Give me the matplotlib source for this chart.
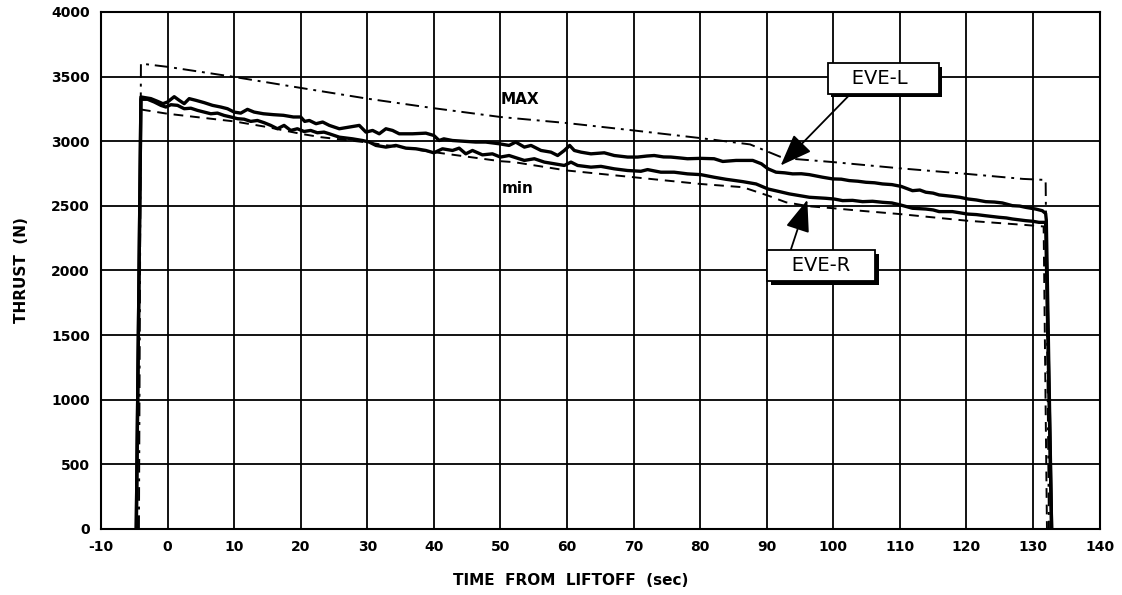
import matplotlib
matplotlib.use("Agg")
import matplotlib.pyplot as plt
import matplotlib.patheffects as pe

plt.rcParams["axes.unicode_minus"] = False

# ---------------- data ----------------
eve_l_t = [-4.7, -4.0, -2.5, -1.5, -0.7, 0, 1, 1.75, 2.5, 3.25, 4.25, 5.5, 6.75, 8, 9, 10, 11, 12, 13,
           14.4, 15.9, 17.4, 18.9, 20, 20.6, 21.3, 22.3, 23.3, 24.3, 25.8, 27.3, 28.8, 29.8, 30.8,
           31.8, 32.8, 33.8, 34.8, 36.8, 38.8, 40, 40.8, 41.5, 42.8, 44.3, 46.3, 47.8, 49.8, 51.3,
           52.3, 53.6, 54.6, 56.1, 57.6, 58.6, 59.6, 60.4, 61.1, 62.1, 63.6, 65.6, 67.1, 69.1, 70.6,
           72.0, 73.1, 74.5, 75.6, 77.0, 78.1, 80.1, 82.1, 83.4, 85.4, 87.9, 89.2, 90.2, 91.4, 92.7,
           93.9, 95.2, 96.4, 98.4, 99.9, 101.2, 102.4, 103.7, 104.9, 106.2, 107.4, 108.8, 110.2,
           111.9, 113.0, 113.9, 115.0, 115.9, 117.9, 119.0, 120.2, 121.5, 122.9, 124.2, 125.4, 126.9,
           128.0, 128.9, 130.4, 131.4, 131.9, 132.0, 132.8]
eve_l_v = [0, 3342, 3329, 3308, 3290, 3303, 3344, 3316, 3290, 3329, 3316, 3298, 3277, 3264, 3251, 3225,
           3217, 3246, 3225, 3212, 3205, 3200, 3187, 3187, 3153, 3160, 3135, 3148, 3122, 3096, 3109,
           3122, 3070, 3083, 3057, 3096, 3083, 3057, 3057, 3062, 3044, 3005, 3018, 3005, 3000, 2993,
           2993, 2980, 2967, 2993, 2954, 2967, 2928, 2915, 2889, 2928, 2967, 2928, 2915, 2902, 2910,
           2889, 2877, 2877, 2885, 2889, 2878, 2877, 2870, 2864, 2867, 2864, 2843, 2851, 2851, 2825,
           2786, 2760, 2755, 2747, 2748, 2741, 2721, 2708, 2706, 2695, 2690, 2682, 2678, 2669, 2664,
           2650, 2617, 2622, 2605, 2598, 2584, 2573, 2566, 2553, 2545, 2532, 2529, 2522, 2501, 2498,
           2488, 2475, 2462, 2440, 2390, 0]

eve_r_t = [-4.7, -4.0, -3, -2, -1, -0.25, 0.5, 1.5, 2.5, 3.5, 4.5, 5.5, 6.5, 7.5, 8.5, 9.5, 10.5, 11.5,
           12.5, 13.5, 14.5, 15.5, 16.5, 17.5, 18.5, 19.5, 20.5, 21.5, 22.5, 23.5, 24.3, 25.8, 27.8,
           29.3, 30.3, 31.3, 32.8, 34.3, 35.8, 37.3, 38.8, 40, 41.3, 42.8, 43.8, 44.8, 45.8, 47.3,
           48.8, 50, 51.3, 52.8, 53.6, 55.1, 56.6, 58.1, 59.6, 60.6, 61.6, 63.6, 65.1, 67.1, 69.1,
           71.1, 72.1, 74.1, 76.1, 78.1, 80.1, 82.1, 83.9, 86.4, 88.4, 90.2, 91.9, 93.4, 94.9, 96.4,
           98.9, 100.2, 101.4, 102.9, 104.4, 105.9, 107.4, 108.8, 110.2, 111.9, 113.9, 115.0, 115.9,
           117.9, 119.0, 120.2, 121.5, 122.9, 124.9, 126.0, 126.9, 128.9, 130.0, 130.9, 131.9, 132.8]
eve_r_v = [0, 3324, 3324, 3303, 3277, 3264, 3282, 3277, 3251, 3255, 3238, 3225, 3212, 3217, 3199, 3187,
           3174, 3170, 3153, 3160, 3143, 3122, 3096, 3122, 3083, 3096, 3075, 3083, 3065, 3070, 3057,
           3031, 3018, 3005, 2993, 2967, 2954, 2967, 2946, 2941, 2928, 2910, 2941, 2928, 2946, 2902,
           2928, 2894, 2902, 2877, 2889, 2864, 2851, 2864, 2838, 2825, 2812, 2838, 2812, 2799, 2805,
           2786, 2773, 2767, 2780, 2760, 2760, 2747, 2741, 2721, 2705, 2687, 2669, 2630, 2610, 2592,
           2579, 2566, 2558, 2552, 2540, 2542, 2532, 2535, 2527, 2522, 2505, 2481, 2475, 2468, 2455,
           2455, 2446, 2436, 2432, 2423, 2411, 2406, 2398, 2385, 2380, 2372, 2372, 0]

max_t = [-4.3, -4.0, 0, 10, 20, 30, 40, 50, 60, 70, 80, 87.5, 92, 94, 100, 110, 120, 128.5, 131.9, 132.4]
max_v = [0, 3600, 3575, 3497, 3412, 3329, 3255, 3187, 3140, 3083, 3024, 2975, 2880, 2863, 2838, 2790,
         2747, 2708, 2700, 0]

min_t = [-4.0, 0, 10, 15, 20, 23, 30, 40, 50, 52, 60, 70, 80, 86.4, 90.2, 92.9, 96.4, 100, 104, 110,
         120, 129, 131.6, 132.1]
min_v = [3245, 3212, 3153, 3109, 3057, 3031, 2990, 2915, 2845, 2838, 2773, 2721, 2669, 2644, 2579, 2527,
         2496, 2481, 2462, 2436, 2385, 2351, 2340, 0]

x_ticks = list(range(-10, 141, 10))
y_ticks = list(range(0, 4001, 500))

# ---------------- figure ----------------
fig = plt.figure(figsize=(11.22, 5.95), dpi=100)
ax = fig.add_axes([0.090, 0.111, 0.890, 0.869])

ax.set_xlim(-10, 140)
ax.set_ylim(0, 4000)
ax.set_xticks(x_ticks)
ax.set_yticks(y_ticks)
ax.grid(True, color="black", linewidth=1.3)
ax.set_axisbelow(True)
for s in ax.spines.values():
    s.set_linewidth(1.5)
    s.set_color("black")
ax.tick_params(length=0, pad=8, labelsize=10)
for lab in ax.get_xticklabels() + ax.get_yticklabels():
    lab.set_fontweight("bold")

ax.plot(max_t, max_v, color="black", linewidth=1.4, dashes=(7, 3, 1.5, 3))
ax.plot(min_t, min_v, color="black", linewidth=1.4, dashes=(5, 3.5))
ax.plot(eve_l_t, eve_l_v, color="black", linewidth=2.4, solid_joinstyle="round")
ax.plot(eve_r_t, eve_r_v, color="black", linewidth=2.4, solid_joinstyle="round")

ax.text(53.0, 3320, "MAX", fontsize=11, fontweight="bold", ha="center", va="center")
ax.text(52.6, 2632, "min", fontsize=11, fontweight="bold", ha="center", va="center")

box = dict(boxstyle="square,pad=0.3", facecolor="white", edgecolor="black", linewidth=1.3)

def arrow(rel):
    return dict(arrowstyle="-|>,head_length=1.1,head_width=0.42", color="black", linewidth=1.3,
                mutation_scale=18, shrinkA=0, shrinkB=0, relpos=rel)

a1 = ax.annotate("   EVE-L    ", xy=(92.1, 2812), xytext=(107.5, 3485), textcoords="data",
                 fontsize=14, ha="center", va="center", bbox=box, arrowprops=arrow((0.23, 0.0)))
a2 = ax.annotate("   EVE-R   ", xy=(96.1, 2546), xytext=(98.2, 2036), textcoords="data",
                 fontsize=14, ha="center", va="center", bbox=box, arrowprops=arrow((0.16, 1.0)))
for a in (a1, a2):
    a.get_bbox_patch().set_path_effects([
        pe.SimplePatchShadow(offset=(2.5, -2.5), shadow_rgbFace="black", alpha=1.0),
        pe.Normal()])

ax.set_xlabel("TIME  FROM  LIFTOFF  (sec)", fontsize=11, fontweight="bold", labelpad=6)
ax.xaxis.set_label_coords(0.47, -0.085)
ax.set_ylabel("THRUST  (N)", fontsize=11, fontweight="bold")
ax.yaxis.set_label_coords(-0.072, 0.5)

fig.savefig("out.png", dpi=100)
